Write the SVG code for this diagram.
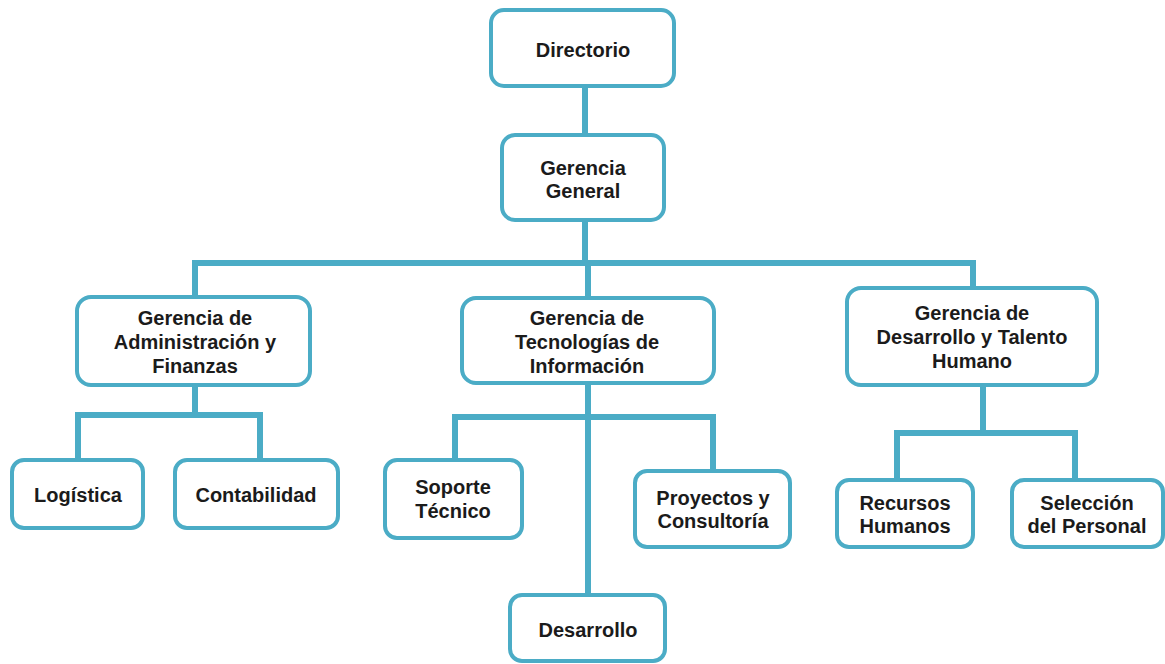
<svg xmlns="http://www.w3.org/2000/svg" width="1165" height="664" viewBox="0 0 1165 664">
  <style>
    .box { fill: #ffffff; stroke: #4bacc6; stroke-width: 4; }
    .link { fill: none; stroke: #4bacc6; stroke-width: 6; stroke-linejoin: miter; }
    .lbl { font-family: "Liberation Sans", Arial, sans-serif; font-size: 20px; font-weight: bold; fill: #1b1b1b; text-anchor: middle; }
  </style>
  <rect width="1165" height="664" fill="#ffffff"/>

  <!-- connectors -->
  <g id="connectors">
    <path class="link" d="M585 86 V135"/>
    <path class="link" d="M585 220 V263 H195 V297"/>
    <path class="link" d="M585 263 H973 V288"/>
    <path class="link" d="M588 263 V298"/>
    <path class="link" d="M195 385 V415"/>
    <path class="link" d="M78 460 V415 H260 V460"/>
    <path class="link" d="M588 383 V595"/>
    <path class="link" d="M455 460 V417 H713 V471"/>
    <path class="link" d="M983 385 V433"/>
    <path class="link" d="M897 480 V433 H1075 V480"/>
  </g>

  <g id="directorio">
    <rect class="box" x="491" y="10" width="183" height="76" rx="13"/>
    <text class="lbl" x="583" y="57">Directorio</text>
  </g>

  <g id="gerencia-general">
    <rect class="box" x="502" y="135" width="162" height="85" rx="13"/>
    <text class="lbl" x="583" y="175">Gerencia</text>
    <text class="lbl" x="583" y="198">General</text>
  </g>

  <g id="gerencia-admin">
    <rect class="box" x="77" y="297" width="233" height="88" rx="14"/>
    <text class="lbl" x="195" y="325">Gerencia de</text>
    <text class="lbl" x="195" y="349">Administración y</text>
    <text class="lbl" x="195" y="373">Finanzas</text>
  </g>

  <g id="gerencia-ti">
    <rect class="box" x="462" y="298" width="252" height="85" rx="14"/>
    <text class="lbl" x="587" y="325">Gerencia de</text>
    <text class="lbl" x="587" y="349">Tecnologías de</text>
    <text class="lbl" x="587" y="373">Información</text>
  </g>

  <g id="gerencia-talento">
    <rect class="box" x="847" y="288" width="250" height="97" rx="14"/>
    <text class="lbl" x="972" y="320">Gerencia de</text>
    <text class="lbl" x="972" y="344">Desarrollo y Talento</text>
    <text class="lbl" x="972" y="368">Humano</text>
  </g>

  <g id="logistica">
    <rect class="box" x="12" y="460" width="131" height="68" rx="12"/>
    <text class="lbl" x="78" y="502">Logística</text>
  </g>

  <g id="contabilidad">
    <rect class="box" x="175" y="460" width="163" height="68" rx="12"/>
    <text class="lbl" x="256" y="502">Contabilidad</text>
  </g>

  <g id="soporte">
    <rect class="box" x="385" y="460" width="137" height="78" rx="12"/>
    <text class="lbl" x="453" y="494">Soporte</text>
    <text class="lbl" x="453" y="518">Técnico</text>
  </g>

  <g id="proyectos">
    <rect class="box" x="635" y="471" width="155" height="76" rx="12"/>
    <text class="lbl" x="713" y="505">Proyectos y</text>
    <text class="lbl" x="713" y="528">Consultoría</text>
  </g>

  <g id="desarrollo">
    <rect class="box" x="510" y="595" width="155" height="66" rx="12"/>
    <text class="lbl" x="588" y="637">Desarrollo</text>
  </g>

  <g id="recursos-humanos">
    <rect class="box" x="837" y="480" width="136" height="67" rx="12"/>
    <text class="lbl" x="905" y="510">Recursos</text>
    <text class="lbl" x="905" y="533">Humanos</text>
  </g>

  <g id="seleccion">
    <rect class="box" x="1012" y="480" width="151" height="67" rx="12"/>
    <text class="lbl" x="1087" y="510">Selección</text>
    <text class="lbl" x="1087" y="533">del Personal</text>
  </g>
</svg>
